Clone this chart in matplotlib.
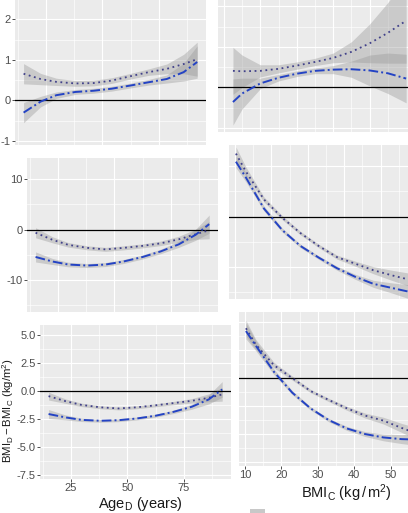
import numpy as np
import matplotlib
matplotlib.use('Agg')
import matplotlib.pyplot as plt
from matplotlib.ticker import FixedLocator
from matplotlib.patches import Rectangle

plt.rcParams['font.family'] = ['Liberation Sans', 'DejaVu Sans']
plt.rcParams['mathtext.fontset'] = 'custom'
plt.rcParams['mathtext.rm'] = 'Liberation Sans'
plt.rcParams['mathtext.it'] = 'Liberation Sans:italic'
plt.rcParams['mathtext.bf'] = 'Liberation Sans:bold'

# ---------------- data ----------------
age = [15, 22.5, 29.5, 38, 46, 54, 62.5, 70.5, 78.5, 86, 92]
bmi_r1 = [12.5, 15, 20, 25, 30, 35, 40, 45, 50, 55, 60]
bmi = [10.3, 13, 18, 23, 28, 33, 38, 43, 48, 53, 58]

# row 1
r1_age_dot = [0.66, 0.53, 0.46, 0.42, 0.43, 0.49, 0.60, 0.70, 0.78, 0.90, 1.02]
r1_age_dot_se = [0.25, 0.14, 0.09, 0.07, 0.07, 0.07, 0.07, 0.08, 0.12, 0.24, 0.42]
r1_age_blue = [-0.30, -0.03, 0.13, 0.21, 0.24, 0.29, 0.37, 0.45, 0.53, 0.70, 0.95]
r1_age_blue_se = [0.25, 0.13, 0.08, 0.06, 0.06, 0.06, 0.06, 0.07, 0.10, 0.22, 0.40]
r1_bmi_dot = [0.41, 0.40, 0.41, 0.46, 0.54, 0.63, 0.73, 0.88, 1.09, 1.35, 1.65]
r1_bmi_dot_se = [0.58, 0.40, 0.15, 0.10, 0.09, 0.09, 0.12, 0.25, 0.48, 0.75, 1.05]
r1_bmi_blue = [-0.36, -0.15, 0.10, 0.24, 0.34, 0.41, 0.44, 0.45, 0.42, 0.35, 0.22]
r1_bmi_blue_se = [0.57, 0.38, 0.13, 0.08, 0.07, 0.07, 0.10, 0.20, 0.38, 0.50, 0.60]

# row 2
r2_age_dot = [-0.6, -2.0, -3.0, -3.6, -3.9, -3.6, -3.2, -2.7, -1.9, -0.9, -0.1]
r2_age_dot_se = [1.0, 0.6, 0.45, 0.4, 0.4, 0.4, 0.4, 0.45, 0.6, 1.0, 1.7]
r2_age_blue = [-5.4, -6.3, -6.9, -7.1, -6.9, -6.3, -5.4, -4.3, -2.9, -1.0, 1.1]
r2_age_blue_se = [1.0, 0.6, 0.45, 0.4, 0.4, 0.4, 0.4, 0.45, 0.6, 1.1, 1.8]
r2_bmi_dot = [12.5, 9.0, 3.4, -0.2, -3.25, -5.8, -8.0, -9.3, -10.6, -11.6, -12.5]
r2_bmi_dot_se = [1.3, 0.9, 0.5, 0.4, 0.35, 0.35, 0.4, 0.5, 0.7, 1.0, 1.3]
r2_bmi_blue = [10.9, 7.8, 1.6, -2.65, -5.8, -8.1, -10.2, -11.9, -13.3, -14.1, -14.9]
r2_bmi_blue_se = [1.2, 0.85, 0.5, 0.4, 0.35, 0.35, 0.4, 0.5, 0.7, 1.0, 1.4]

# row 3
r3_age_dot = [-0.5, -0.95, -1.28, -1.5, -1.6, -1.5, -1.32, -1.12, -0.92, -0.65, -0.35]
r3_age_dot_se = [0.35, 0.2, 0.15, 0.13, 0.13, 0.13, 0.13, 0.15, 0.2, 0.35, 0.6]
r3_age_blue = [-2.1, -2.4, -2.62, -2.7, -2.65, -2.5, -2.25, -1.9, -1.45, -0.8, 0.1]
r3_age_blue_se = [0.4, 0.22, 0.15, 0.13, 0.13, 0.13, 0.13, 0.15, 0.22, 0.4, 0.7]
r3_bmi_dot = [4.4, 2.95, 1.1, -0.05, -1.2, -2.0, -2.75, -3.4, -3.85, -4.5, -5.1]
r3_bmi_dot_se = [0.7, 0.45, 0.25, 0.18, 0.15, 0.15, 0.18, 0.22, 0.3, 0.4, 0.55]
r3_bmi_blue = [4.15, 2.85, 0.5, -1.35, -2.75, -3.8, -4.55, -5.05, -5.35, -5.5, -5.55]
r3_bmi_blue_se = [0.7, 0.45, 0.25, 0.18, 0.15, 0.15, 0.18, 0.22, 0.3, 0.4, 0.55]

age_ticks = [25, 50, 75]
age_tick_labels = ['25', '50', '75']
bmi_ticks = [10, 20, 30, 40, 50]
bmi_tick_labels = ['10', '20', '30', '40', '50']
row_yticks = [[-1, 0, 1, 2], [-10, 0, 10], [-7.5, -5.0, -2.5, 0.0, 2.5, 5.0]]
row_ytick_labels = [['-1', '0', '1', '2'], ['-10', '0', '10'],
                    ['-7.5', '-5.0', '-2.5', '0.0', '2.5', '5.0']]
row_yminor = [[-0.5, 0.5, 1.5, 2.5], [-15, -5, 5], [-6.25, -3.75, -1.25, 1.25, 3.75]]
age_minor = [12.5, 37.5, 62.5, 87.5]
bmi_minor = [15, 25, 35, 45, 55]

x_label_age = r'$\mathrm{Age_D}$ (years)'
x_label_bmi = r'$\mathrm{BMI_C}$ $\mathrm{(kg\,/\,m^2)}$'
y_label = r'$\mathrm{BMI_D - BMI_C\ (kg/m^2)}$'

# ---------------- layout ----------------
W, H = 408, 513
fig = plt.figure(figsize=(W / 100, H / 100), dpi=100)

def px_axes(x0, y0, x1, y1):
    return fig.add_axes([x0 / W, 1 - y1 / H, (x1 - x0) / W, (y1 - y0) / H])

# panel boxes (the photographed original is slightly tilted, so the
# rows drift right and the right column sits a little higher)
rows_px = [[(-21, 145), (-34, 132)],
           [(158, 312), (145, 299)],
           [(325, 479), (312, 466)]]
cols_px = [[(15, 206), (218, 552)],
           [(27, 218), (229, 563)],
           [(40, 231), (239, 573)]]
row_ylim = [(-1.1, 3.0), (-16.3, 14.2), (-7.9, 5.85)]
col_xlim = [(11.2, 95.9), (8.4, 100)]

data = [
    [(age, r1_age_dot, r1_age_dot_se, r1_age_blue, r1_age_blue_se),
     (bmi_r1, r1_bmi_dot, r1_bmi_dot_se, r1_bmi_blue, r1_bmi_blue_se)],
    [(age, r2_age_dot, r2_age_dot_se, r2_age_blue, r2_age_blue_se),
     (bmi, r2_bmi_dot, r2_bmi_dot_se, r2_bmi_blue, r2_bmi_blue_se)],
    [(age, r3_age_dot, r3_age_dot_se, r3_age_blue, r3_age_blue_se),
     (bmi, r3_bmi_dot, r3_bmi_dot_se, r3_bmi_blue, r3_bmi_blue_se)],
]

dot_color = '#41418A'
blue_color = '#2443C4'
ribbon = '#999999'

for r in range(3):
    for c in range(2):
        y0, y1 = rows_px[r][c]
        x0, x1 = cols_px[r][c]
        ax = px_axes(x0, y0, x1, y1)
        ax.set_facecolor('#EBEBEB')
        for s in ax.spines.values():
            s.set_visible(False)
        ax.set_xlim(*col_xlim[c])
        ax.set_ylim(*row_ylim[r])
        ax.set_axisbelow(True)
        if c == 0:
            ax.xaxis.set_major_locator(FixedLocator(age_ticks))
            ax.xaxis.set_minor_locator(FixedLocator(age_minor))
            ax.set_xticklabels(age_tick_labels)
        else:
            ax.xaxis.set_major_locator(FixedLocator(bmi_ticks))
            ax.xaxis.set_minor_locator(FixedLocator(bmi_minor))
            ax.set_xticklabels(bmi_tick_labels)
        ax.yaxis.set_major_locator(FixedLocator(row_yticks[r]))
        ax.yaxis.set_minor_locator(FixedLocator(row_yminor[r]))
        ax.set_yticklabels(row_ytick_labels[r])
        ax.grid(which='major', color='white', lw=0.85)
        ax.grid(which='minor', color='white', lw=0.45)
        ax.tick_params(which='minor', length=0)
        ax.tick_params(which='major', length=2.0, width=0.6, color='#333333',
                       labelsize=8, labelcolor='#4D4D4D', pad=1.2)
        if r < 2:
            ax.tick_params(axis='x', which='major', length=0, labelbottom=False)
        if c == 1:
            ax.tick_params(axis='y', which='major', length=0, labelleft=False)

        x, yd, sd, yb, sb = data[r][c]
        x = np.asarray(x); yd = np.asarray(yd); sd = np.asarray(sd)
        yb = np.asarray(yb); sb = np.asarray(sb)
        ax.fill_between(x, yd - sd, yd + sd, color=ribbon, alpha=0.4, lw=0, zorder=2)
        ax.fill_between(x, yb - sb, yb + sb, color=ribbon, alpha=0.4, lw=0, zorder=2)
        ax.axhline(0, color='black', lw=0.9, zorder=3)
        ax.plot(x, yd, color=dot_color, lw=1.3, ls=(0, (1, 2)), zorder=4)
        ax.plot(x, yb, color=blue_color, lw=1.4, ls=(0, (5, 1.6, 1, 1.6)), zorder=4)

fig.text(140 / W, 1 - 504 / H, x_label_age, ha='center', va='center',
         fontsize=10.5, color='#1A1A1A')
fig.text(346 / W, 1 - 493 / H, x_label_bmi, ha='center', va='center',
         fontsize=10.5, color='#1A1A1A')
fig.text(8.3 / W, 1 - 411 / H, y_label, ha='center', va='center', rotation=90,
         fontsize=8.2, color='#1A1A1A')

fig.patches.append(Rectangle((250 / W, 0), 15 / W, 4 / H, transform=fig.transFigure,
                             facecolor='#C8C8C8', edgecolor='none'))

fig.savefig('out.png', dpi=100, facecolor='white')
